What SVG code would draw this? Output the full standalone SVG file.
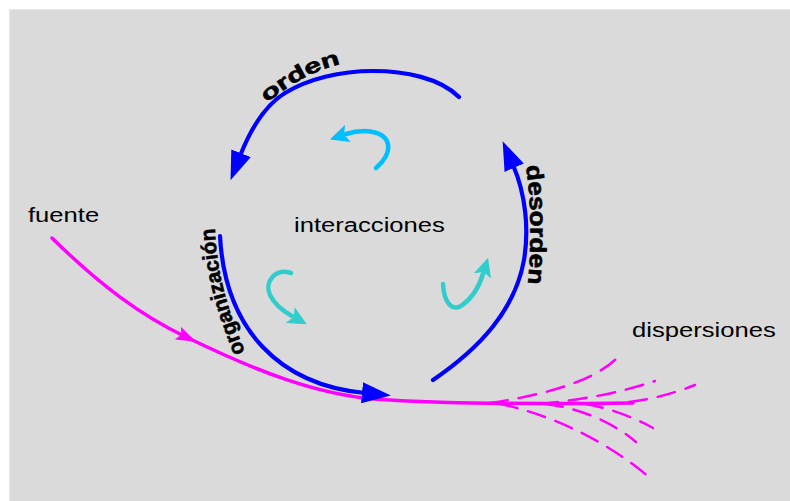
<svg xmlns="http://www.w3.org/2000/svg" width="790" height="501" viewBox="0 0 790 501">
<style>
.bg{fill:#dadada;stroke:#e6e6e6;stroke-width:1}
.blue{fill:none;stroke:#0000ff;stroke-width:4.2;stroke-linecap:round}
.mag{fill:none;stroke:#ff00ff;stroke-width:3.5;stroke-linecap:round}
.dash{fill:none;stroke:#ff00ff;stroke-width:2.5;stroke-linecap:round;stroke-dasharray:18 11}
.cyan1{fill:none;stroke:#00bfff;stroke-width:4.5;stroke-linecap:round}
.cyan2{fill:none;stroke:#33cccc;stroke-width:4.5;stroke-linecap:round}
.lbl{font-family:"Liberation Sans",Arial,sans-serif;font-size:21px;fill:#000}
.arc{font-family:"Liberation Sans",Arial,sans-serif;font-weight:bold;fill:#000;stroke:#000;stroke-width:0.6}
</style>
<defs>
<marker id="hb" markerUnits="userSpaceOnUse" markerWidth="29" markerHeight="21" viewBox="0 0 29 21" refX="3" refY="10.5" orient="auto"><path d="M0,0 L29,10.5 L0,21 z" fill="#0000ff"/></marker>
<marker id="hm" markerUnits="userSpaceOnUse" markerWidth="20" markerHeight="14" viewBox="0 0 20 14" refX="9" refY="7" orient="auto"><path d="M0,0 L20,7 L0,14 L4,7 z" fill="#ff00ff"/></marker>
<marker id="hc1" markerUnits="userSpaceOnUse" markerWidth="19" markerHeight="18" viewBox="0 0 19 18" refX="2" refY="9" orient="auto"><path d="M0,0 L19,9 L0,18 L4,9 z" fill="#00bfff"/></marker>
<marker id="hc2" markerUnits="userSpaceOnUse" markerWidth="19" markerHeight="18" viewBox="0 0 19 18" refX="2" refY="9" orient="auto"><path d="M0,0 L19,9 L0,18 L4,9 z" fill="#33cccc"/></marker>
<path id="pOrden" d="M267,103 C 290,84 315,69 350,62"/>
<path id="pOrg" d="M245,352 C 228,310 215,270 215,222"/>
<path id="pDes" d="M526,166 C 531,200 532,250 527,292"/>
</defs>
<rect class="bg" x="9.5" y="9.5" width="781" height="492"/>
<g id="connectors">
<path class="mag" d="M52,238 C 100,285 140,315 186,337" marker-end="url(#hm)"/>
<path class="mag" d="M186,337 C 250,368 320,398 390,400 C 450,404 540,404 633,403"/>
<path class="dash" d="M490,403 C 530,397 590,385 617,358"/>
<path class="dash" d="M540,404 C 580,400 620,393 655,381"/>
<path class="dash" d="M600,404 C 640,403 670,395 695,385"/>
<path class="dash" d="M500,404 C 540,412 600,435 650,478"/>
<path class="dash" d="M545,404 C 575,407 610,420 636,442"/>
<path class="dash" d="M585,404 C 610,408 635,418 653,428"/>
<path class="blue" d="M459,97 C 440,78 405,71 373,71 C 340,71 308,79 285,93 C 264,106 249,133 240,156" marker-end="url(#hb)"/>
<path class="blue" d="M220,236 C 225,330 280,385 365,393" marker-end="url(#hb)"/>
<path class="blue" d="M433,380 C 480,348 515,310 524,260 C 529,230 526,195 513,165" marker-end="url(#hb)"/>
<path class="cyan1" d="M376,168 C 392,155 396,133 365,131 C 358,131 352,132 346,134" marker-end="url(#hc1)"/>
<path class="cyan2" d="M291,273 C 275,268 264,282 270,295 C 275,305 283,311 292,316" marker-end="url(#hc2)"/>
<path class="cyan2" d="M443,284 C 444,303 452,311 461,306 C 470,300 478,290 483,274" marker-end="url(#hc2)"/>
</g>
<g id="fuente"><text class="lbl" transform="translate(28,222) scale(1.22,1)">fuente</text></g>
<g id="interacciones"><text class="lbl" transform="translate(294,232) scale(1.22,1)">interacciones</text></g>
<g id="dispersiones"><text class="lbl" transform="translate(632,337) scale(1.22,1)">dispersiones</text></g>
<g id="orden"><text class="arc" font-size="21"><textPath href="#pOrden" textLength="84" lengthAdjust="spacingAndGlyphs">orden</textPath></text></g>
<g id="organizacion"><text class="arc" font-size="21"><textPath href="#pOrg" textLength="128" lengthAdjust="spacingAndGlyphs">organización</textPath></text></g>
<g id="desorden"><text class="arc" font-size="23"><textPath href="#pDes" textLength="118" lengthAdjust="spacingAndGlyphs">desorden</textPath></text></g>
</svg>
